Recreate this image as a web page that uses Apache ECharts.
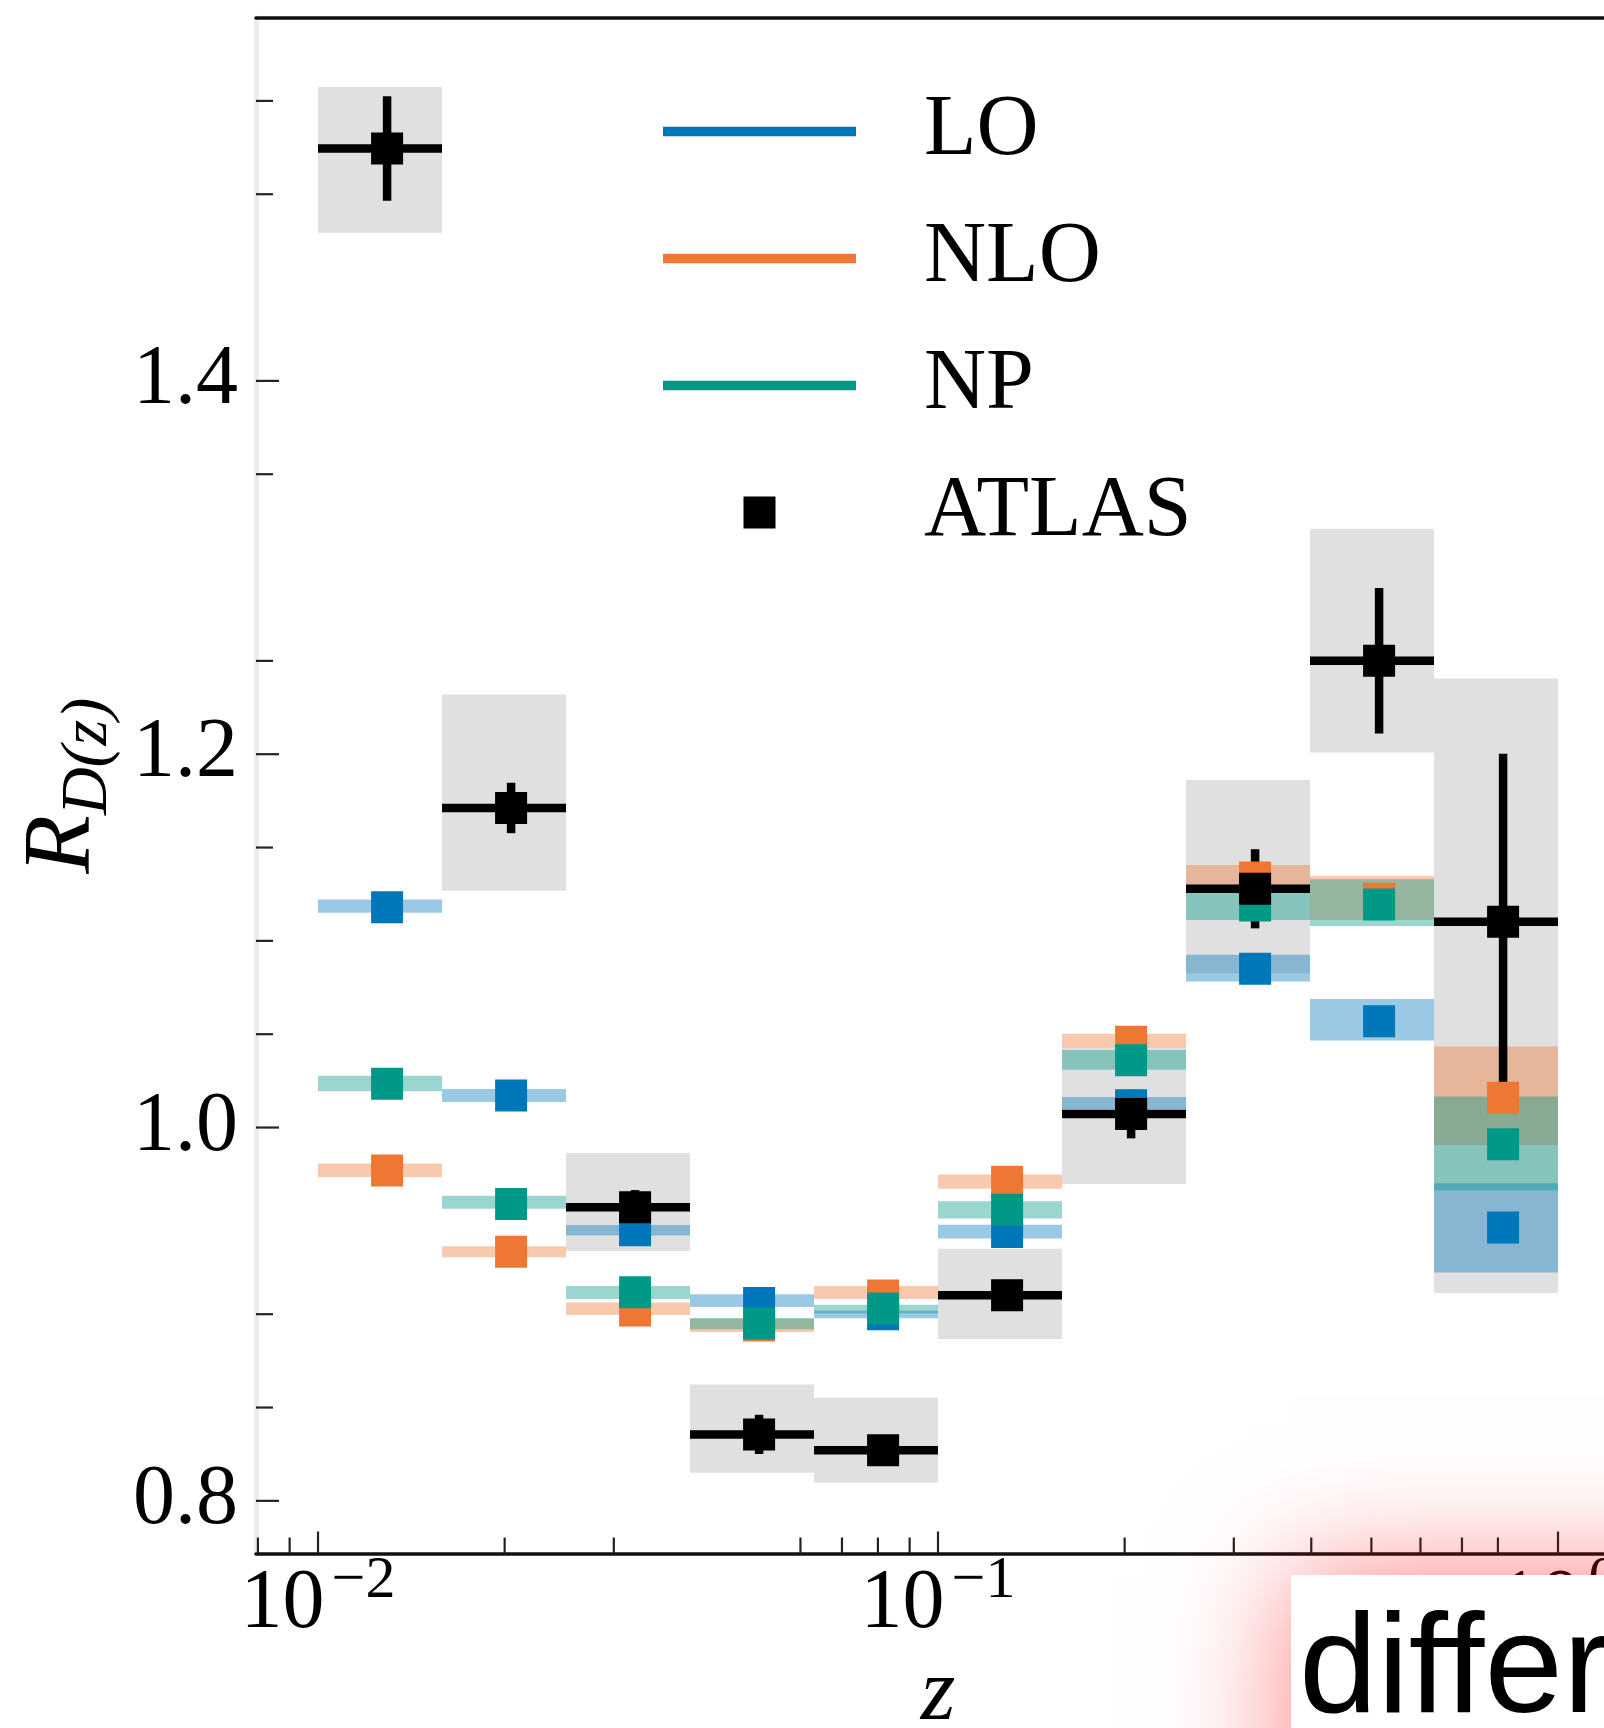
<!DOCTYPE html>
<html>
<head>
<meta charset="utf-8">
<script src="https://cdn.jsdelivr.net/npm/echarts@6/dist/echarts.min.js"></script>
<style>
html,body{margin:0;padding:0;background:#fff;overflow:hidden;width:1604px;height:1728px}
#c{width:1700px;height:1728px}
</style>
</head>
<body>
<div id="c"></div>
<script>
// ---- data ----
const binEdges = [0.01, 0.01585, 0.02512, 0.03981, 0.0631, 0.1, 0.1585, 0.2512, 0.3981, 0.631, 1.0];

const atlasValue   = [1.5245, 1.1712, 0.9573, 0.8356, 0.8271, 0.9101, 1.0072, 1.1279, 1.2501, 1.1103];
const atlasStatErr = [0.028, 0.0135, 0.0092, 0.0105, 0.007, 0.007, 0.013, 0.0212, 0.039, 0.0899];
const atlasSysLow  = [1.4794, 1.1269, 0.9338, 0.8150, 0.8097, 0.8867, 0.9697, 1.0827, 1.2009, 0.9113];
const atlasSysHigh = [1.5575, 1.2320, 0.9864, 0.8623, 0.8552, 0.9350, 1.0426, 1.1862, 1.3208, 1.2406];

const loValue = [1.118, 1.0172, 0.945, 0.906, 0.900, 0.944, 1.012, 1.085, 1.057, 0.9465];
const loLow   = [1.1150, 1.0137, 0.9422, 0.9038, 0.8978, 0.9405, 1.0096, 1.0782, 1.0466, 0.9223];
const loHigh  = [1.1221, 1.0206, 0.9478, 0.9107, 0.9018, 0.9479, 1.0164, 1.0925, 1.0689, 0.9702];

const nloValue = [0.977, 0.9335, 0.902, 0.894, 0.910, 0.971, 1.046, 1.134, 1.1225, 1.016];
const nloLow   = [0.9735, 0.9305, 0.8996, 0.8905, 0.9082, 0.9672, 1.0426, 1.1275, 1.1112, 0.9907];
const nloHigh  = [0.9807, 0.9364, 0.9063, 0.8975, 0.9151, 0.9749, 1.0502, 1.1407, 1.1348, 1.0434];

const npValue = [1.0235, 0.959, 0.9117, 0.895, 0.903, 0.956, 1.036, 1.119, 1.1195, 0.991];
const npLow   = [1.0195, 0.9565, 0.9082, 0.892, 0.9005, 0.9513, 1.0309, 1.1112, 1.108, 0.9663];
const npHigh  = [1.0277, 0.9635, 0.9151, 0.898, 0.9051, 0.9605, 1.0416, 1.1275, 1.133, 1.0166];

const xMajorTicks = [0.01, 0.1, 1];
const xTickExponents = ['−2', '−1', '0'];
const xMinorTicks = [0.008, 0.009, 0.02, 0.03, 0.06, 0.07, 0.08, 0.09, 0.2, 0.3, 0.4, 0.5, 0.6, 0.7, 0.8];
const yMajorTicks = [0.8, 1.0, 1.2, 1.4];
const yMinorTicks = [0.85, 0.9, 1.05, 1.1, 1.15, 1.25, 1.35, 1.5, 1.55];

const X_MIN = 0.007943, X_MAX = 1.2589;
const Y_MIN = 0.7718, Y_MAX = 1.5944;

// ---- helpers ----
const SERIF = '"Liberation Serif", "Times New Roman", serif';
const binCenters = binEdges.slice(0, -1).map((e, i) => (e + binEdges[i + 1]) / 2);
const boxRows = (low, high) => binEdges.slice(0, -1).map((e, i) => [e, binEdges[i + 1], low[i], high[i]]);
const pointRows = (vals) => binCenters.map((c, i) => [c, vals[i]]);

function rectRenderer(fill) {
  return function (params, api) {
    const a = api.coord([api.value(0), api.value(3)]);
    const b = api.coord([api.value(1), api.value(2)]);
    return { type: 'rect', shape: { x: a[0], y: a[1], width: b[0] - a[0], height: b[1] - a[1] }, style: { fill: fill } };
  };
}
function bandSeries(name, low, high, fill) {
  return { type: 'custom', name: name, silent: true, data: boxRows(low, high),
    encode: { x: [0, 1], y: [2, 3] }, renderItem: rectRenderer(fill) };
}
function markerSeries(name, vals, color) {
  return { type: 'scatter', name: name, silent: true, symbol: 'rect', symbolSize: 32,
    itemStyle: { color: color, opacity: 1 }, emphasis: { disabled: true }, data: pointRows(vals) };
}

const atlasBarRows = binCenters.map((c, i) => [binEdges[i], binEdges[i + 1], c, atlasValue[i], atlasStatErr[i]]);
const xTickRows = xMajorTicks.map(v => [v, Y_MIN, 22]).concat(xMinorTicks.map(v => [v, Y_MIN, 16]));
const yTickRows = yMajorTicks.map(v => [X_MIN, v, 23]).concat(yMinorTicks.map(v => [X_MIN, v, 17]));

const chart = echarts.init(document.getElementById('c'), null, { renderer: 'canvas', width: 1700, height: 1728 });

const option = {
  animation: false,
  backgroundColor: '#ffffff',
  grid: { left: 256, right: 80, top: 18, bottom: 174.5, containLabel: false, outerBoundsMode: 'none' },
  legend: {
    orient: 'vertical', left: 663, top: 84, padding: 0,
    itemWidth: 193, itemHeight: 32, itemGap: 32, symbolKeepAspect: true,
    selectedMode: false,
    textStyle: { fontFamily: SERIF, fontSize: 86, color: '#000', lineHeight: 95, padding: [0, 0, 0, 63] },
    data: [
      { name: 'LO', icon: 'path://M0,0h40v2h-40z', itemStyle: { color: '#0077BB' } },
      { name: 'NLO', icon: 'path://M0,0h40v2h-40z', itemStyle: { color: '#EE7733' } },
      { name: 'NP', icon: 'path://M0,0h40v2h-40z', itemStyle: { color: '#009988' } },
      { name: 'ATLAS', icon: 'path://M0,0h1v1h-1z', itemStyle: { color: '#000000' } }
    ]
  },
  xAxis: [
    {
      type: 'log', logBase: 10, min: X_MIN, max: X_MAX, position: 'bottom',
      axisLine: { show: true, onZero: false, lineStyle: { color: '#111', width: 3.5 } },
      axisTick: { show: false }, splitLine: { show: false }, minorTick: { show: false },
      axisLabel: {
        show: true, customValues: xMajorTicks, margin: 9,
        formatter: function (v) {
          let idx = 0, best = Infinity;
          xMajorTicks.forEach((t, i) => { const d = Math.abs(Math.log10(t) - Math.log10(v)); if (d < best) { best = d; idx = i; } });
          return '{b|10}{s|' + xTickExponents[idx] + '}';
        },
        rich: {
          b: { fontFamily: SERIF, fontSize: 84, lineHeight: 84, verticalAlign: 'bottom', color: '#000' },
          s: { fontFamily: SERIF, fontSize: 60, lineHeight: 60, verticalAlign: 'bottom', padding: [0, 0, 35, 7], color: '#000' }
        }
      },
      name: 'z', nameLocation: 'middle', nameGap: 96,
      nameTextStyle: { fontFamily: SERIF, fontStyle: 'italic', fontSize: 89, color: '#000' }
    },
    {
      type: 'log', logBase: 10, min: X_MIN, max: X_MAX, position: 'top',
      axisLine: { show: true, onZero: false, lineStyle: { color: '#111', width: 3.5 } },
      axisTick: { show: false }, axisLabel: { show: false }, splitLine: { show: false }
    }
  ],
  yAxis: [
    {
      type: 'value', min: Y_MIN, max: Y_MAX, position: 'left',
      axisLine: { show: true, onZero: false, lineStyle: { color: '#ebebeb', width: 5 } },
      axisTick: { show: false }, splitLine: { show: false },
      axisLabel: {
        show: true, customValues: yMajorTicks, margin: 18,
        formatter: v => Number(v).toFixed(1),
        fontFamily: SERIF, fontSize: 84, color: '#000'
      },
      name: '{r|R}{s|D(z)}', nameLocation: 'middle', nameRotate: 90, nameGap: 133,
      nameTextStyle: {
        rich: {
          r: { fontFamily: SERIF, fontStyle: 'italic', fontSize: 96, lineHeight: 96, verticalAlign: 'bottom', padding: [0, 0, 10, 0], color: '#000' },
          s: { fontFamily: SERIF, fontStyle: 'italic', fontSize: 66, lineHeight: 66, verticalAlign: 'bottom', color: '#000' }
        }
      }
    }
  ],
  series: [
    { type: 'custom', name: 'ATLAS syst', silent: true, data: boxRows(atlasSysLow, atlasSysHigh),
      encode: { x: [0, 1], y: [2, 3] }, renderItem: rectRenderer('#e0e0e0') },
    bandSeries('LO band', loLow, loHigh, 'rgba(0,119,187,0.4)'),
    markerSeries('LO', loValue, '#0077BB'),
    bandSeries('NLO band', nloLow, nloHigh, 'rgba(238,119,51,0.4)'),
    markerSeries('NLO', nloValue, '#EE7733'),
    bandSeries('NP band', npLow, npHigh, 'rgba(0,153,136,0.4)'),
    markerSeries('NP', npValue, '#009988'),
    { type: 'custom', name: 'ATLAS bars', silent: true, data: atlasBarRows,
      encode: { x: [0, 1, 2], y: [3] },
      renderItem: function (params, api) {
        const v = api.value(3), e = api.value(4);
        const l = api.coord([api.value(0), v]), r = api.coord([api.value(1), v]);
        const t = api.coord([api.value(2), v + e]), b = api.coord([api.value(2), v - e]);
        return { type: 'group', children: [
          { type: 'line', shape: { x1: l[0], y1: l[1], x2: r[0], y2: r[1] }, style: { stroke: '#000', lineWidth: 8.5 } },
          { type: 'line', shape: { x1: t[0], y1: t[1], x2: b[0], y2: b[1] }, style: { stroke: '#000', lineWidth: 8.5 } }
        ] };
      } },
    markerSeries('ATLAS', atlasValue, '#000000'),
    { type: 'custom', name: 'x ticks', silent: true, z: 5, data: xTickRows, encode: { x: 0, y: 1 },
      renderItem: function (params, api) {
        const p = api.coord([api.value(0), api.value(1)]);
        return { type: 'line', shape: { x1: p[0], y1: p[1], x2: p[0], y2: p[1] - api.value(2) }, style: { stroke: '#222', lineWidth: 2.2 } };
      } },
    { type: 'custom', name: 'y ticks', silent: true, z: 5, data: yTickRows, encode: { x: 0, y: 1 },
      renderItem: function (params, api) {
        const p = api.coord([api.value(0), api.value(1)]);
        return { type: 'line', shape: { x1: p[0], y1: p[1], x2: p[0] + api.value(2), y2: p[1] }, style: { stroke: '#222', lineWidth: 2.2 } };
      } }
  ],
  graphic: [
    { type: 'rect', z: 100, silent: true, shape: { x: 1291, y: 1575, width: 500, height: 400 },
      style: { fill: '#ffffff', shadowBlur: 120, shadowColor: 'rgba(255,0,0,0.5)' } },
    { type: 'text', z: 101, silent: true, x: 1299, y: 1673,
      style: { text: 'differ', fontFamily: '"Liberation Sans", Arial, sans-serif', fontSize: 141, fill: '#000', align: 'left', verticalAlign: 'middle' } }
  ]
};
chart.setOption(option);
</script>
</body>
</html>
